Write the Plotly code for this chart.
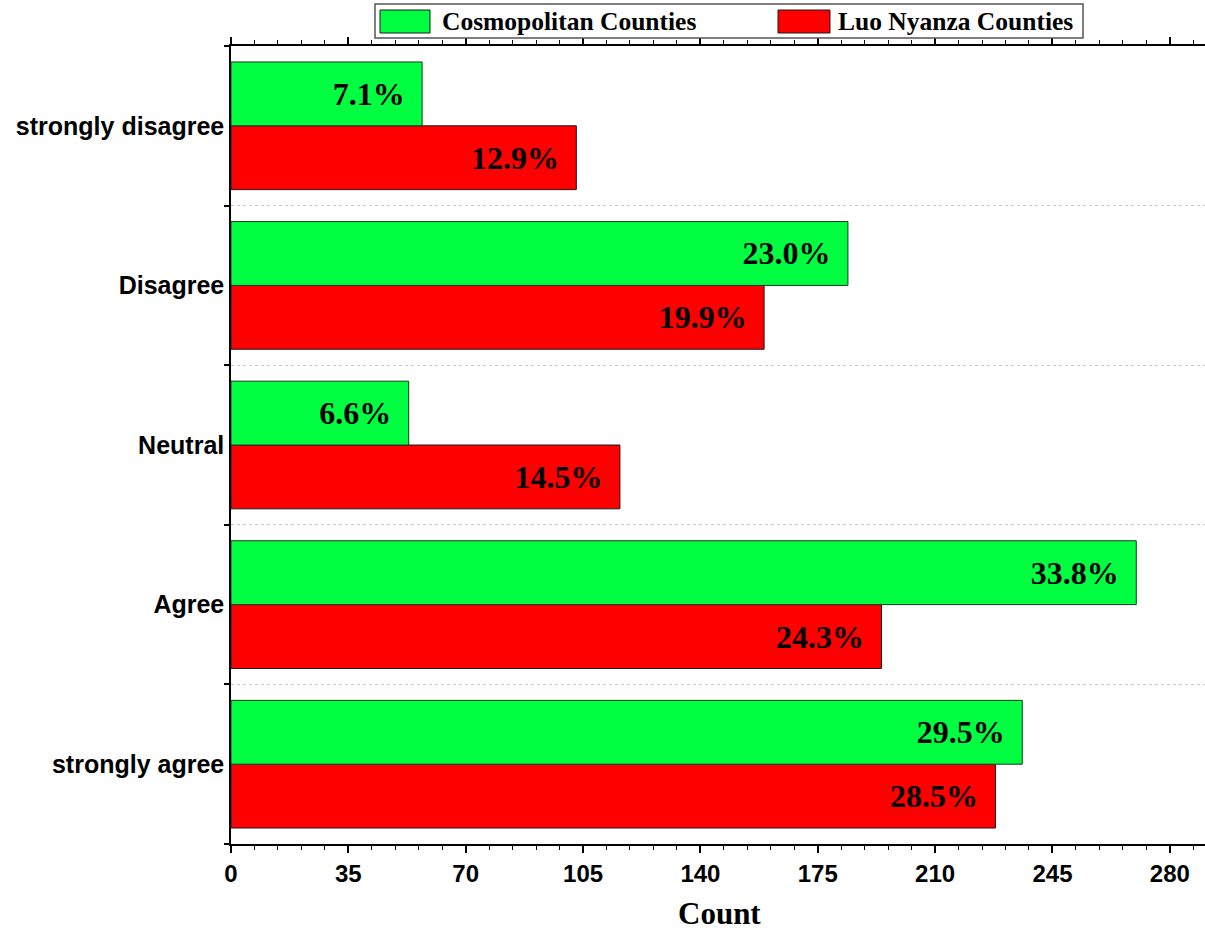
import plotly.graph_objects as go

# ---- data ----
categories = ["strongly agree", "Agree", "Neutral", "Disagree", "strongly disagree"]
series_names = ["Cosmopolitan Counties", "Luo Nyanza Counties"]
cosmo_counts = [236, 270, 53, 184, 57]
luo_counts = [228, 194, 116, 159, 103]
cosmo_labels = ["29.5%", "33.8%", "6.6%", "23.0%", "7.1%"]
luo_labels = ["28.5%", "24.3%", "14.5%", "19.9%", "12.9%"]
x_tick_values = [0, 35, 70, 105, 140, 175, 210, 245, 280]

# ---- styling ----
W, H = 1205, 932
L, R, T, B = 231, 0, 46, 88
GREEN = "#00FF40"
RED = "#FF0000"
SERIF = "Liberation Serif, Times New Roman, serif"
SANS = "Liberation Sans, Arial, sans-serif"
PAD = "\u00a0\u2009"

plot_w = W - L - R
plot_h = H - T - B
px_per_unit = (1169.5 - 230.7) / 280.0
x_max = plot_w / px_per_unit


def px_x(p):
    return (p - L) / plot_w


def px_y(p):
    return (H - B - p) / plot_h


fig = go.Figure()
bar_font = dict(family=SERIF, size=32, color="black", weight="bold")
fig.add_trace(go.Bar(
    y=categories, x=luo_counts, orientation="h", name=series_names[1],
    marker=dict(color=RED, line=dict(color="#1a1a1a", width=1)),
    text=[t + PAD for t in luo_labels], textposition="inside",
    insidetextanchor="end", textfont=bar_font, constraintext="none",
    cliponaxis=False, hoverinfo="skip",
))
fig.add_trace(go.Bar(
    y=categories, x=cosmo_counts, orientation="h", name=series_names[0],
    marker=dict(color=GREEN, line=dict(color="#1a3a1a", width=1)),
    text=[t + PAD for t in cosmo_labels], textposition="inside",
    insidetextanchor="end", textfont=bar_font, constraintext="none",
    cliponaxis=False, hoverinfo="skip",
))

xtick_font = dict(family=SANS, size=24, color="black", weight="bold")
ytick_font = dict(family=SANS, size=25, color="black", weight="bold")

fig.update_layout(
    width=W, height=H,
    margin=dict(l=L, r=R, t=T, b=B, pad=0),
    paper_bgcolor="white", plot_bgcolor="white",
    barmode="group", bargap=0.2, bargroupgap=0,
    uniformtext=dict(mode=False),
    showlegend=False,
    xaxis=dict(
        range=[0, x_max], tickmode="array", tickvals=x_tick_values,
        ticktext=[str(v) for v in x_tick_values],
        showline=True, linecolor="black", linewidth=1.5,
        mirror="ticks", ticks="outside", ticklen=7, tickwidth=1.5,
        tickcolor="black", showgrid=False, zeroline=False,
        tickfont=xtick_font,
        minor=dict(dtick=7, tick0=0, ticks="outside", ticklen=4,
                   tickwidth=1, tickcolor="black", showgrid=False),
    ),
    yaxis=dict(
        categoryorder="array", categoryarray=categories,
        showline=True, linecolor="black", linewidth=1.5, mirror=False,
        ticks="outside", tickson="boundaries", ticklen=5, tickwidth=1.5,
        tickcolor="black",
        showgrid=True, gridcolor="#c8c8c8", griddash="dot", gridwidth=1,
        tickfont=ytick_font, zeroline=False,
    ),
)

# x-axis title
fig.add_annotation(
    text="Count", xref="paper", yref="paper",
    x=px_x(719), y=px_y(913), xanchor="center", yanchor="middle",
    showarrow=False, font=dict(family=SERIF, size=31, color="black", weight="bold"),
)

# manual legend (box, swatches, labels)
fig.add_shape(type="rect", xref="paper", yref="paper",
              x0=px_x(375), x1=px_x(1083), y0=px_y(38), y1=px_y(4),
              line=dict(color="#555555", width=1.5), fillcolor="white", layer="above")
legend_items = [(series_names[0], GREEN, 380, 430, 440),
                (series_names[1], RED, 778, 830, 836)]
for name, col, s0, s1, tx in legend_items:
    fig.add_shape(type="rect", xref="paper", yref="paper",
                  x0=px_x(s0), x1=px_x(s1), y0=px_y(33), y1=px_y(10),
                  line=dict(color="#1a1a1a", width=1), fillcolor=col, layer="above")
    fig.add_annotation(
        text=name, xref="paper", yref="paper",
        x=px_x(tx), y=px_y(21), xanchor="left", yanchor="middle",
        showarrow=False, font=dict(family=SERIF, size=25.5, color="black", weight="bold"),
    )

fig.write_html("out.html")
